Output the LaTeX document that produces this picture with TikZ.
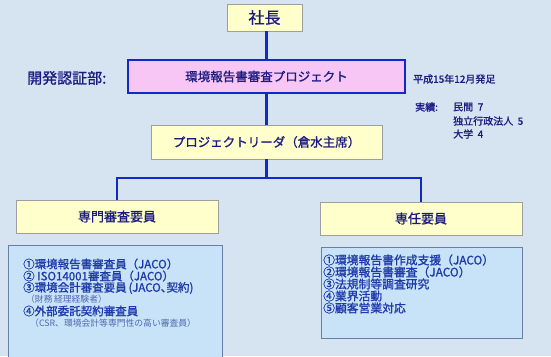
\documentclass[tikz,border=0pt]{standalone}
\usepackage{fontspec}
\newfontfamily\jp{Noto Sans CJK JP}
\newfontfamily\jpb{Noto Sans CJK JP}[FakeBold=1.2]
\newfontfamily\jpbp{Noto Sans CJK JP}[FakeBold=1.2,RawFeature=+palt]
\definecolor{bg}{HTML}{D6E4F2}
\definecolor{conn}{HTML}{1428C8}
\definecolor{yel}{HTML}{FFFFCC}
\definecolor{pink}{HTML}{F8C6F4}
\definecolor{listbg}{HTML}{C8E2F8}
\definecolor{listbd}{HTML}{6880A8}
\definecolor{navy}{HTML}{1C1C80}
\definecolor{blu}{HTML}{1E3AA8}
\definecolor{lblu}{HTML}{5068B0}
\tikzset{
  ybox/.style={draw=gray!75, line width=0.8pt, fill=yel, inner sep=0pt, text=navy},
  projbox/.style={draw=conn, line width=2.6pt, fill=pink, inner sep=0pt, text=navy},
  lbox/.style={draw=listbd, line width=0.8pt, fill=listbg, inner sep=0pt},
  conline/.style={draw=conn, line width=2.4pt},
  ltext/.style={anchor=west, inner sep=0pt, text=blu, font=\jpb\fontsize{11.5}{12}\selectfont},
  rtext/.style={anchor=west, inner sep=0pt, text=blu, font=\jpb\fontsize{11.8}{12}\selectfont},
  stext/.style={anchor=west, inner sep=0pt, text=lblu, font=\jp\fontsize{8.8}{10}\selectfont},
  ntext/.style={anchor=west, inner sep=0pt, text=navy, font=\jpb\fontsize{10}{12}\selectfont}
}
\begin{document}
\begin{tikzpicture}[x=1pt,y=-1pt]
\useasboundingbox (0,0) rectangle (551,356);
\clip (0,0) rectangle (551,356);
\fill[bg] (0,0) rectangle (551,356);

% boxes
\node[ybox, minimum width=75pt, minimum height=27pt, font=\jpb\fontsize{16}{18}\selectfont] (pres) at (264.5,17.5) {社長};
\node[projbox, minimum width=277pt, minimum height=33pt, font=\jpb\fontsize{12.5}{14}\selectfont] (proj) at (266.5,76.5) {環境報告書審査プロジェクト};
\node[ybox, minimum width=231pt, minimum height=34pt, font=\jpb\fontsize{12.5}{14}\selectfont] (lead) at (266.5,142) {プロジェクトリーダ（倉水主席）};
\node[ybox, minimum width=202pt, minimum height=33pt, font=\jpb\fontsize{13}{15}\selectfont] (left) at (117,216.5) {専門審査要員};
\node[ybox, minimum width=202pt, minimum height=33pt, font=\jpb\fontsize{13}{15}\selectfont] (right) at (421,218.5) {専任要員};
\node[lbox, minimum width=214pt, minimum height=120pt] (llist) at (115,305) {};
\node[lbox, minimum width=201pt, minimum height=91pt] (rlist) at (421.5,292.5) {};

% side labels
\node[anchor=west, inner sep=0pt, text=navy, font=\jpb\fontsize{15}{17}\selectfont] (dept) at (27,78) {開発認証部:};
\node[ntext] (date) at (413,79) {平成15年12月発足};
\node[ntext] (jl) at (415,107) {実績:};
\node[ntext] (j1) at (453,107) {民間\ \ 7};
\node[ntext] (j2) at (453,121) {独立行政法人\ \ 5};
\node[ntext] (j3) at (453,134) {大学\ \ 4};

% connectors
\coordinate (bar) at (266.5,178);
\draw[conline] (proj.north) -- (proj.north |- pres.south);
\draw[conline] (proj.south) -- (lead.north);
\draw[conline] (lead.south) -- (bar);
\draw[conline] (left.north) |- (bar) -| (right.north);

% left list
\node[ltext] (l1) at (23,264) {①環境報告書審査員（JACO）};
\node[ltext] (l2) at (23,276) {② ISO14001審査員（JACO）};
\node[ltext, font=\jpbp\fontsize{11.5}{12}\selectfont] (l3) at (23,288) {③環境会計審査要員\,(JACO、契約)};
\node[stext] (l4) at (26,299) {（財務\,経理経験者）};
\node[ltext] (l5) at (23,311) {④外部委託契約審査員};
\node[stext] (l6) at (30,323) {（CSR、環境会計等専門性の高い審査員）};

% right list
\node[rtext] (r1) at (323,260) {①環境報告書作成支援（JACO）};
\node[rtext] (r2) at (323,272) {②環境報告書審査（JACO）};
\node[rtext] (r3) at (323,284) {③法規制等調査研究};
\node[rtext] (r4) at (323,296) {④業界活動};
\node[rtext] (r5) at (323,308) {⑤顧客営業対応};
\end{tikzpicture}
\end{document}
